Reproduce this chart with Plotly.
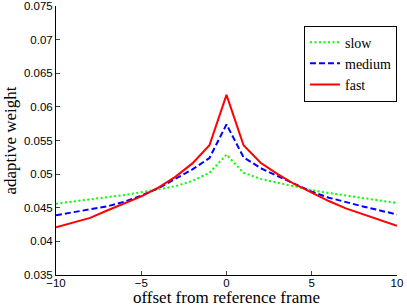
import plotly.graph_objects as go

offsets = list(range(-10, 11))
slow = [0.0456, 0.0459, 0.0462, 0.0465, 0.0469, 0.0473, 0.0477, 0.0482, 0.0490, 0.0502,
        0.0529, 0.0502, 0.0493, 0.0487, 0.0481, 0.0476, 0.0472, 0.0468, 0.0464, 0.0461, 0.0457]
medium = [0.0439, 0.0443, 0.0447, 0.0452, 0.0459, 0.0468, 0.0479, 0.0493, 0.0507, 0.0524,
          0.0574, 0.0525, 0.0509, 0.0497, 0.0485, 0.0474, 0.0465, 0.0458, 0.0452, 0.0446, 0.0440]
fast = [0.0421, 0.0428, 0.0435, 0.0446, 0.0456, 0.0467, 0.0480, 0.0496, 0.0516, 0.0543,
        0.0618, 0.0543, 0.0517, 0.0500, 0.0485, 0.0472, 0.0460, 0.0449, 0.0440, 0.0431, 0.0423]
x_ticks = [-10, -5, 0, 5, 10]
y_ticks = [0.035, 0.04, 0.045, 0.05, 0.055, 0.06, 0.065, 0.07, 0.075]
y_tick_labels = ["0.035", "0.04", "0.045", "0.05", "0.055", "0.06", "0.065", "0.07", "0.075"]

fig = go.Figure()
fig.add_trace(go.Scatter(x=offsets, y=slow, mode="lines", name="slow",
                         line=dict(color="#00ff00", width=2, dash="2px,2.5px")))
fig.add_trace(go.Scatter(x=offsets, y=medium, mode="lines", name="medium",
                         line=dict(color="#0000ff", width=2, dash="6px,3px")))
fig.add_trace(go.Scatter(x=offsets, y=fast, mode="lines", name="fast",
                         line=dict(color="#ff0000", width=2)))

tickfont = dict(family="Liberation Sans, Arial, sans-serif", size=11.5, color="black")
titlefont = dict(family="Liberation Serif, Times New Roman, serif", size=17, color="black")

fig.update_layout(
    width=407, height=307,
    margin=dict(l=56, r=10, t=6, b=32, autoexpand=False),
    paper_bgcolor="white", plot_bgcolor="white",
    showlegend=True,
    legend=dict(x=1.0, y=0.786, xanchor="right", yanchor="middle",
                bordercolor="black", borderwidth=1, bgcolor="white",
                font=dict(family="Liberation Serif, Times New Roman, serif", size=14, color="black"),
                tracegroupgap=0, itemwidth=30, entrywidth=90, entrywidthmode="pixels"),
    xaxis=dict(range=[-10, 10.0001], tickvals=x_ticks, ticks="inside", ticklen=4,
               showline=True, linecolor="black", linewidth=1, showgrid=False, zeroline=False,
               tickfont=tickfont, automargin=False, ticklabelstandoff=-3,
               title=dict(text="offset from reference frame", font=titlefont, standoff=0)),
    yaxis=dict(range=[0.035, 0.07501], tickvals=y_ticks, ticktext=y_tick_labels,
               ticks="inside", ticklen=4,
               showline=True, linecolor="black", linewidth=1, showgrid=False, zeroline=False,
               tickfont=tickfont, automargin=False,
               title=dict(text="adaptive weight", font=titlefont, standoff=2)),
)

fig.write_html("out.html", config={"displayModeBar": False},
               post_script="document.body.style.margin='0';document.body.style.padding='0';")
